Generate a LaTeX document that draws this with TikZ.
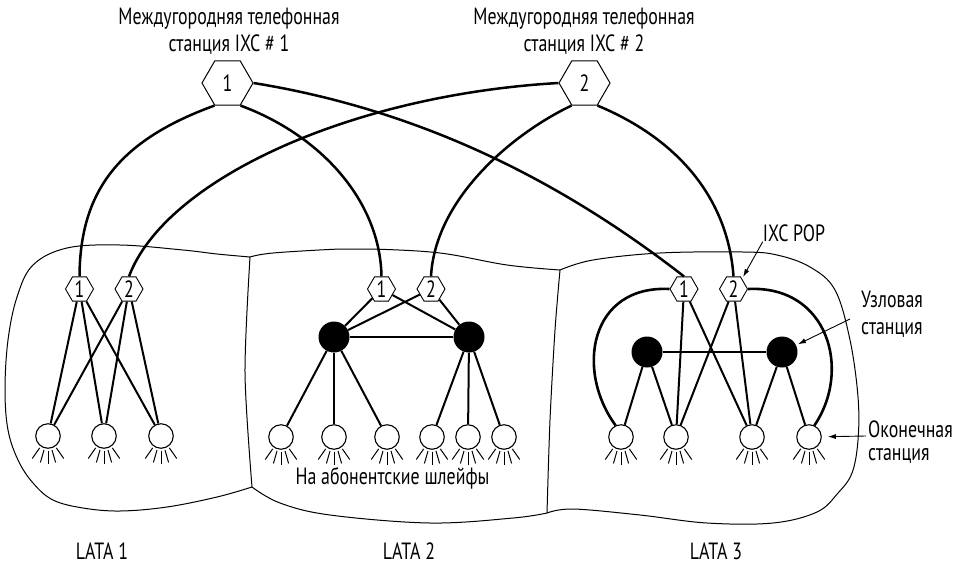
\documentclass[tikz,border=0pt]{standalone}
\usepackage{fontspec}
\setmainfont[FakeStretch=0.76]{PT Sans}
\usetikzlibrary{shapes.geometric,arrows.meta}
\begin{document}
\begin{tikzpicture}[x=1pt,y=-1pt,
  every node/.style={font=\fontsize{23.5}{27}\selectfont, inner sep=0pt},
  bighex/.style={regular polygon, regular polygon sides=6, minimum size=51pt, draw, line width=1pt, fill=white},
  smallhex/.style={regular polygon, regular polygon sides=6, minimum size=28pt, draw, line width=0.9pt, fill=white},
  hub/.style={circle, fill=black, minimum size=31pt},
  endoff/.style={circle, draw, line width=1.1pt, minimum size=24.5pt, fill=white},
  trunk/.style={line width=2.5pt},
  link/.style={line width=2pt},
  loopline/.style={line width=2.6pt},
  outline/.style={line width=1pt},
  note/.style={line width=0.9pt, -{Latex[length=8pt,width=5pt]}},
  ray/.style={line width=1pt}
]
\useasboundingbox (0,0) rectangle (957,565);

% LATA outlines
\draw[outline] plot[smooth, tension=0.6] coordinates {(250,257) (217,254) (183,250) (120,245) (67,248) (33,265) (17,297) (8,340) (5,390) (8,430) (18,460) (33,483) (53,500) (83,508) (120,511) (167,507) (217,497) (252,487)};
\draw[outline] plot[smooth] coordinates {(250,257) (245,373) (252,487)};
\draw[outline] plot[smooth, tension=0.6] coordinates {(250,257) (273,253) (340,249) (373,249) (440,253) (507,265) (560,270)};
\draw[outline] plot[smooth, tension=0.6] coordinates {(252,487) (280,503) (330,515) (430,523) (513,518) (547,513)};
\draw[outline] plot[smooth] coordinates {(560,270) (555,330) (550,420) (547,513)};
\draw[outline] plot[smooth, tension=0.6] coordinates {(560,270) (593,260) (660,253) (743,252) (777,255) (810,267) (835,290) (850,340) (858,397) (858,440) (852,473) (838,493) (817,512) (773,523) (707,523) (640,515) (573,509) (547,513)};

% long distance switches
\node[bighex] (ixc1) at (227.5,83) {1};
\node[bighex] (ixc2) at (584.5,83) {2};
\node[align=center] (lab1) at (229,31) {Междугородняя телефонная\\станция IXC \# 1};
\node[align=center] (lab2) at (584,31) {Междугородняя телефонная\\станция IXC \# 2};

% POPs
\node[smallhex] (a1) at (79.5,289) {1};
\node[smallhex] (a2) at (129,289) {2};
\node[smallhex] (b1) at (381.5,289) {1};
\node[smallhex] (b2) at (431,289) {2};
\node[smallhex] (c1) at (684,289) {1};
\node[smallhex] (c2) at (733.5,289) {2};

% tandem offices
\node[hub] (bL) at (334,337) {};
\node[hub] (bR) at (469,337) {};
\node[hub] (cL) at (647,352) {};
\node[hub] (cR) at (782,352) {};

% end offices
\node[endoff] (at1) at (48,436) {};
\node[endoff] (at2) at (104,436) {};
\node[endoff] (at3) at (161,436) {};
\node[endoff] (bt1) at (281,437) {};
\node[endoff] (bt2) at (334,437) {};
\node[endoff] (bt3) at (387,437) {};
\node[endoff] (bt4) at (432,437) {};
\node[endoff] (bt5) at (468,437) {};
\node[endoff] (bt6) at (504,437) {};
\node[endoff] (ct1) at (621,437) {};
\node[endoff] (ct2) at (676,437) {};
\node[endoff] (ct3) at (752,437) {};
\node[endoff] (ct4) at (809,437) {};

\foreach \t in {at1,at2,at3,bt1,bt2,bt3,bt4,bt5,bt6,ct1,ct2,ct3,ct4}{
  \foreach \a in {235,254,270,286,305}{
    \draw[ray] (\t.center) ++(\a:14.5pt) -- ++(\a:13pt);
  }
}

% trunks
\draw[trunk] (ixc1.240) .. controls (120,140) and (80,190) .. (a1.north);
\draw[trunk] (ixc1.300) .. controls (320,135) and (380,200) .. (b1.north);
\draw[trunk] (ixc1.east) .. controls (420,110) and (560,180) .. (c1.north);
\draw[trunk] (ixc2.west) .. controls (350,95) and (165,180) .. (a2.north);
\draw[trunk] (ixc2.240) .. controls (510,135) and (435,200) .. (b2.north);
\draw[trunk] (ixc2.300) .. controls (680,140) and (728,200) .. (c2.north);

% LATA 1
\foreach \p in {a1,a2}{\foreach \e in {at1,at2,at3}{\draw[link] (\p) -- (\e);}}

% LATA 2
\foreach \p in {b1,b2}{\foreach \h in {bL,bR}{\draw[link] (\p) -- (\h);}}
\draw[link] (bL) -- (bR);
\foreach \e in {bt1,bt2,bt3}{\draw[link] (bL) -- (\e);}
\foreach \e in {bt4,bt5,bt6}{\draw[link] (bR) -- (\e);}

% LATA 3
\draw[link] (cL) -- (cR);
\draw[link] (cL) -- (ct1);
\draw[link] (cL) -- (ct2);
\draw[link] (cR) -- (ct3);
\draw[link] (cR) -- (ct4);
\foreach \p in {c1,c2}{\foreach \e in {ct2,ct3}{\draw[link] (\p) -- (\e);}}
\draw[loopline] (c1.west) .. controls (590,285) and (575,370) .. (ct1.115);
\draw[loopline] (c2.east) .. controls (828,285) and (852,370) .. (ct4.65);

% annotations
\node (pop) at (794,233) {IXC POP};
\draw[note, shorten >=2pt] (pop.south west) -- (c2.50);
\node[align=left, anchor=west] (uz) at (861,314) {Узловая\\станция};
\coordinate (uzs) at (850,319);
\draw[note, shorten >=2pt] (uzs) -- (cR);
\node[align=left, anchor=west] (ok) at (868,442) {Оконечная\\[-4pt]станция};
\coordinate (oks) at (866,436);
\draw[note, shorten >=6pt] (oks) -- (ct4);

\node (loops) at (392.5,478) {На абонентские шлейфы};
\node (l1) at (102,551) {LATA 1};
\node (l2) at (409,551) {LATA 2};
\node (l3) at (716,551) {LATA 3};
\end{tikzpicture}
\end{document}
